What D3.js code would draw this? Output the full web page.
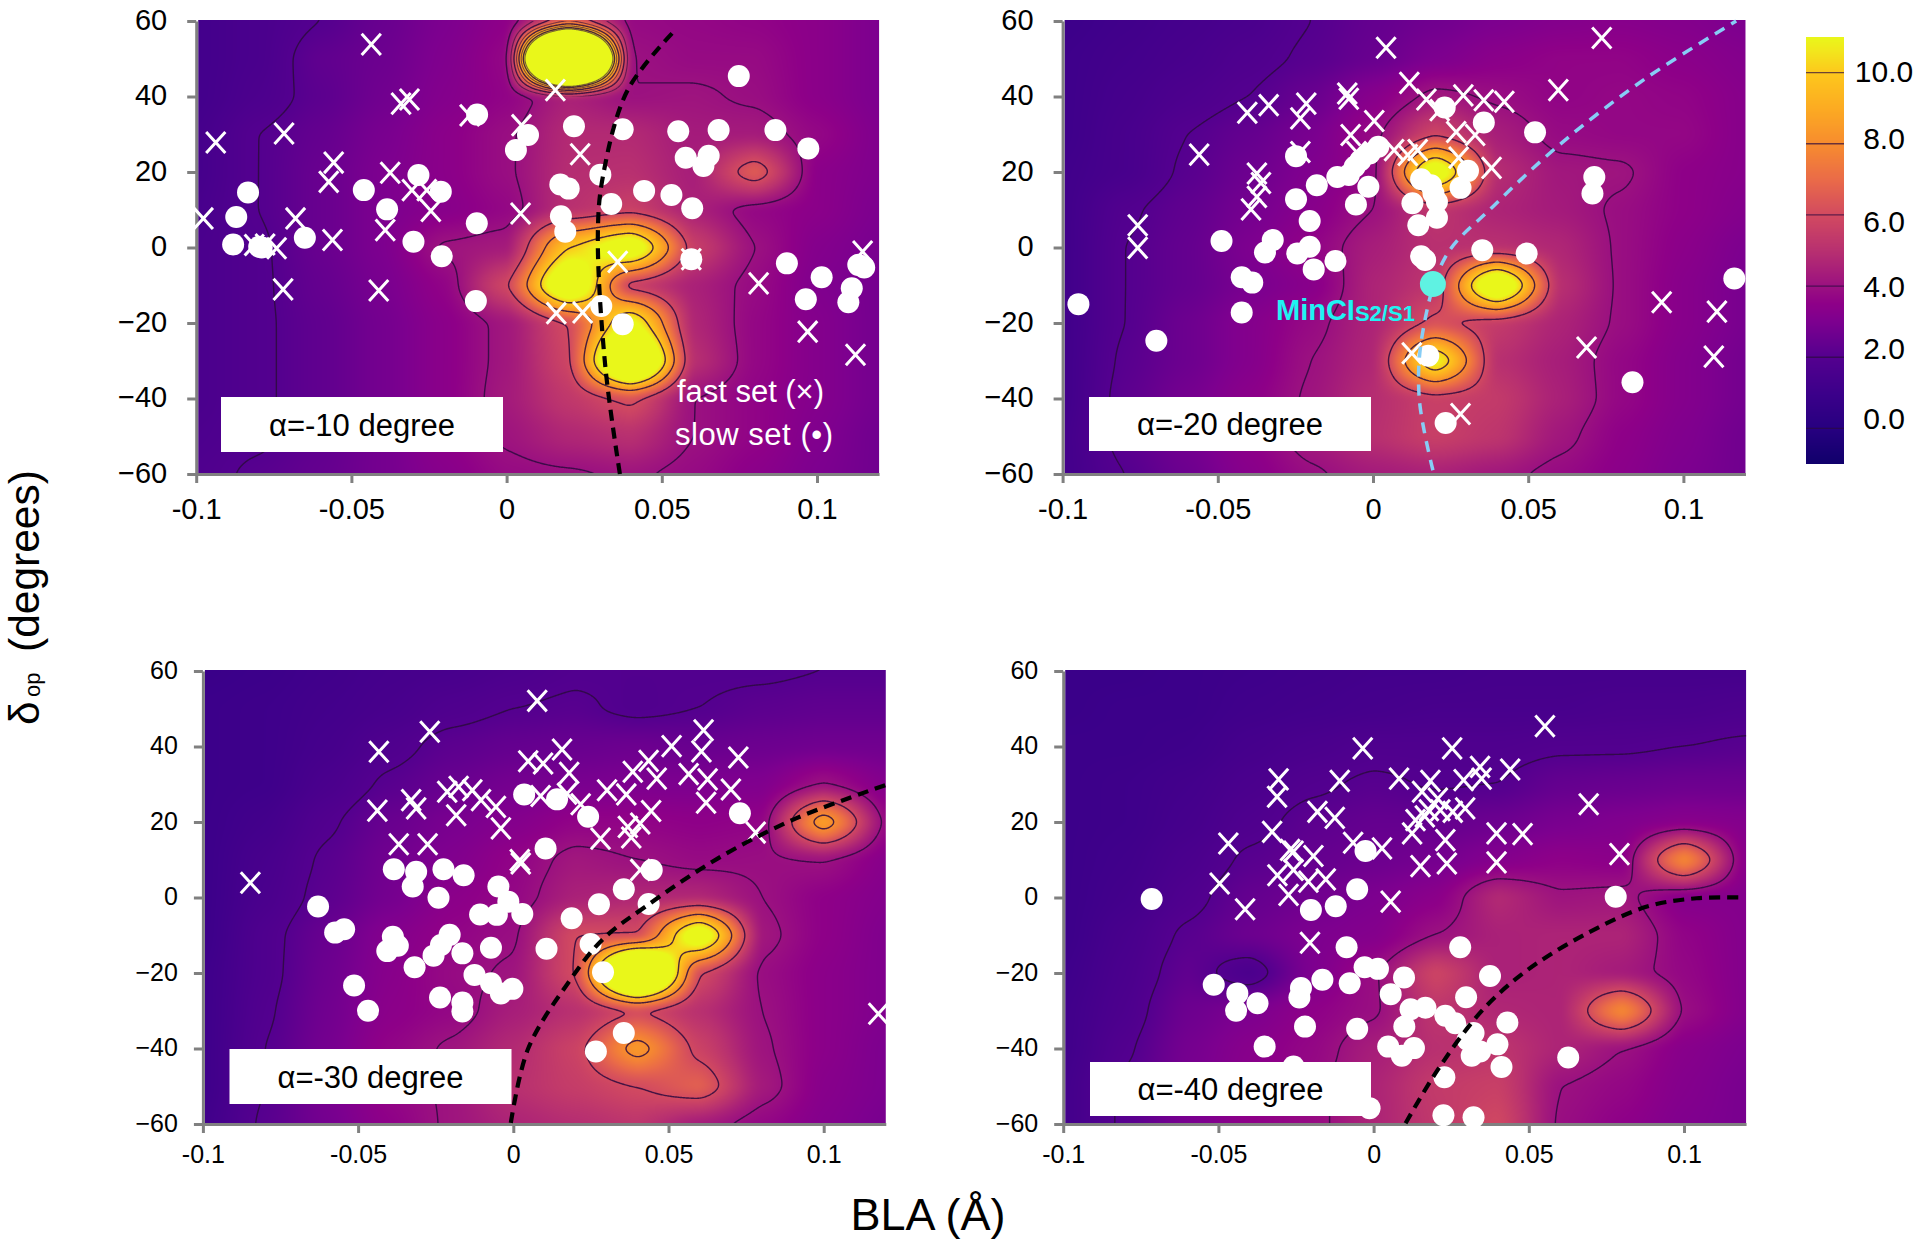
<!DOCTYPE html>
<html><head><meta charset="utf-8">
<script src="https://cdn.jsdelivr.net/npm/d3@7/dist/d3.min.js"></script>
<style>html,body{margin:0;padding:0;background:#fff}svg{display:block}text{font-family:"Liberation Sans",Arial,sans-serif}</style>
</head><body><svg id="chart" width="1920" height="1247"></svg>
<script>
// ---- grid axes of the energy maps
const gridBLA=[-0.1,-0.08,-0.06,-0.04,-0.02,0,0.02,0.04,0.06,0.08,0.1,0.12];
const gridDelta=[60,50,40,30,20,10,0,-10,-20,-30,-40,-50,-60];
// ---- energy grids (rows follow gridDelta, columns gridBLA)
const heat10=[
[1.3,1.6,2.0,2.5,3.0,3.5,6.5,3.8,3.7,3.6,3.4,3.0],
[1.3,1.6,2.3,2.6,3.1,3.7,33,4.0,3.8,3.8,3.4,3.0],
[1.3,1.7,2.2,2.7,3.2,3.6,4.5,4.0,4.1,3.9,3.4,3.0],
[1.4,2.0,2.4,2.9,3.4,3.9,4.8,4.8,4.3,4.3,3.7,3.1],
[1.4,2.0,2.5,3.0,3.4,3.9,4.9,5.0,4.4,6.6,3.4,3.1],
[1.5,2.0,2.5,3.0,3.3,3.7,5.0,5.6,4.5,3.7,3.4,3.0],
[1.6,1.9,2.5,3.0,4.1,4.3,10,12.5,5.6,4.0,3.2,2.9],
[1.6,1.9,2.4,2.9,3.6,5.9,13.5,5.5,4.5,3.8,3.1,2.8],
[1.6,1.9,2.3,2.8,3.4,4.2,6.0,11.5,4.7,3.7,3.2,2.8],
[1.6,1.9,2.3,2.8,3.4,4.2,5.8,17,5.0,3.7,3.2,2.8],
[1.6,1.9,2.3,2.8,3.4,4.3,5.3,6.2,4.0,3.6,3.2,2.8],
[1.7,1.9,2.3,2.8,3.5,4.1,4.7,5.0,4.0,3.6,3.1,2.7],
[1.8,2.1,2.4,2.8,3.3,3.8,3.9,4.1,3.8,3.4,3.0,2.7]];
const heat20=[
[1.0,1.2,1.4,1.6,2.0,2.4,2.7,3.0,3.2,3.3,3.2,3.0],
[1.1,1.3,1.5,1.8,2.1,2.5,3.0,3.4,3.6,3.6,3.4,3.2],
[1.1,1.4,1.7,2.0,2.5,3.3,4.2,3.9,3.6,3.7,3.6,3.3],
[1.1,1.5,2.0,2.4,2.9,3.8,5.8,4.4,3.8,3.7,3.7,3.3],
[1.2,1.5,2.1,2.6,3.1,3.7,12.5,4.9,4.2,4.1,3.5,3.3],
[1.2,1.9,2.3,2.8,3.3,4.0,5.2,4.6,4.3,3.9,3.5,3.2],
[1.2,2.0,2.4,3.0,3.6,4.4,5.0,5.0,4.7,3.9,3.4,3.0],
[1.2,2.0,2.4,2.9,3.3,4.6,5.2,13.5,5.0,3.9,3.3,2.9],
[1.2,2.0,2.6,3.2,3.8,4.6,6.2,5.4,4.6,3.9,3.3,2.9],
[1.2,2.1,2.6,3.2,4.0,4.7,11.3,5.0,4.4,3.7,3.2,2.8],
[1.2,2.2,2.8,3.4,4.1,4.9,5.6,5.4,4.5,3.7,3.2,2.8],
[1.3,2.2,2.8,3.5,4.3,5.0,5.6,5.2,4.2,3.5,3.1,2.7],
[1.3,2.0,2.6,3.3,3.9,4.3,4.5,4.2,3.8,3.4,3.0,2.7]];
const heat30=[
[0.9,1.0,1.2,1.4,1.5,1.7,1.9,1.9,1.9,1.9,2.0,2.0],
[1.0,1.1,1.3,1.5,1.8,2.0,2.1,1.85,2.0,2.2,2.3,2.3],
[1.0,1.1,1.4,1.8,2.2,2.4,2.5,2.6,2.5,2.6,2.7,2.7],
[1.0,1.1,1.6,2.1,2.5,2.8,2.9,3.0,3.0,3.1,4.0,3.2],
[1.0,1.3,1.9,2.5,2.9,3.2,3.6,3.6,3.5,3.6,8.8,3.8],
[1.0,1.5,2.1,2.7,3.1,3.6,4.2,4.0,3.8,3.9,4.0,3.3],
[1.0,1.6,2.2,2.8,3.4,3.7,4.5,4.7,4.7,4.0,3.5,3.2],
[1.0,1.8,2.5,3.2,3.6,3.9,6.0,6.0,12.5,4.2,3.5,3.1],
[1.1,1.8,2.6,3.3,3.8,4.1,6.0,19,6.0,3.9,3.4,3.1],
[1.1,1.9,2.7,3.4,3.7,4.4,5.0,5.95,5.0,4.0,3.4,3.1],
[1.1,2.0,2.8,3.6,4.1,4.8,5.7,8.5,5.7,4.1,3.4,3.0],
[1.1,2.0,2.9,3.7,4.1,5.0,5.5,6.0,6.7,4.3,3.3,3.0],
[1.2,2.1,2.8,3.5,4.1,4.6,4.9,5.2,4.3,3.7,3.2,2.9]];
const heat40=[
[0.9,0.9,1.0,1.1,1.2,1.3,1.3,1.4,1.4,1.4,1.4,1.4],
[0.9,1.0,1.0,1.2,1.3,1.4,1.5,1.5,1.5,1.6,1.6,1.7],
[1.0,1.0,1.1,1.4,1.6,1.8,1.8,1.8,1.9,1.9,2.0,2.1],
[1.0,1.1,1.3,1.6,1.9,2.1,1.95,2.0,2.4,2.5,2.6,2.6],
[1.0,1.1,1.4,1.8,2.2,2.4,2.4,2.6,2.9,3.1,3.3,3.2],
[1.0,1.2,1.6,2.1,2.4,2.6,2.8,3.2,3.5,3.4,8.0,3.3],
[1.0,1.3,1.8,2.4,2.7,3.0,3.4,4.8,4.1,4.2,3.2,3.2],
[1.0,1.5,2.1,2.6,3.0,3.2,4.0,4.5,4.6,4.6,3.6,3.2],
[1.1,1.6,2.3,1.6,3.0,3.9,5.8,4.5,4.6,4.3,3.7,3.2],
[1.2,1.7,2.6,3.0,3.5,3.9,5.2,4.7,4.6,8.0,3.9,3.2],
[1.2,1.9,2.8,3.3,3.7,4.4,5.0,5.2,4.6,4.0,3.3,3.0],
[1.3,2.1,2.9,3.4,3.8,4.6,5.4,5.6,4.0,3.7,3.2,2.9],
[1.3,2.1,2.9,3.5,3.8,4.6,5.3,5.9,3.9,3.5,3.1,2.9]];
// ---- fast set (crosses) [BLA, delta]
const fast10=[[-.0436,53.8],[-.034,38.1],[-.0313,39.2],[-.0937,27.8],[-.0717,30.2],[-.0119,35],[.0048,32.4],[.0157,41.7],[.0237,24.7],[-.0557,22.5],[-.0573,17.4],[-.0375,19.8],[-.0305,15.2],[-.0257,15.2],[-.0244,9.7],[-.0977,7.7],[-.068,7.7],[-.0391,4.6],[-.0561,2],[-.0813,.65],[-.0778,.8],[-.0741,-.2],[.0045,9],[-.072,-11.1],[-.0412,-11.4],[.0358,-3.8],[.0595,-3.1],[.0812,-9.5],[.1147,-1.1],[.016,-17.4],[.0245,-17.2],[.097,-22.3],[.1124,-28.4]];
const fast20=[[.0737,55.5],[.0042,52.9],[.0117,43.6],[.0597,41.7],[-.0083,40.8],[-.0078,39.4],[-.0215,38.1],[-.0336,37.7],[-.0405,35.7],[-.0234,34.2],[.0004,33.5],[-.0072,29.8],[.0172,39.2],[.0215,36.4],[.0291,40.3],[.0357,39],[.0423,38.6],[.0268,30.6],[.0329,29.8],[.0276,23.8],[.0382,21.1],[-.056,24.6],[-.0234,25.3],[-.0053,25.3],[.0068,25.8],[.0112,24.5],[.0144,25.8],[-.0374,19.6],[-.0361,17.1],[-.0374,13.4],[-.0393,10.1],[-.0758,5.9],[-.0758,-.1],[.0125,-28],[.0282,-44.1],[.0688,-26.5],[.093,-14.5],[.1108,-17],[.1098,-28.9]];
const fast30=[[.0077,52.1],[-.0269,43.9],[-.0433,38.6],[.0613,44.3],[.0606,38.7],[.051,40.1],[.0157,39.2],[.0048,36.1],[.0096,35.5],[.018,33],[.0436,36.2],[.0385,33.3],[.0462,31.5],[.0565,32.7],[.0626,31.3],[.0725,37.1],[.0701,28.6],[.0621,25.1],[.0302,28.4],[.0364,27.3],[.0088,26.9],[.0173,27.5],[.0217,24.7],[-.0213,28],[-.0176,29.3],[-.0132,28.4],[-.0104,25.8],[-.0329,25.8],[-.0313,23.6],[-.0438,23],[-.0056,24],[-.0184,21.8],[-.004,18.3],[-.0369,14.1],[-.0276,14.1],[.0281,15.6],[.038,15.9],[.0369,18.7],[.0409,19.6],[.0444,22.9],[.0781,17.2],[.0024,9],[.0021,9.9],[.0409,7.3],[-.0847,3.9],[.1176,-30.8]];
const fast40=[[.0552,45.4],[-.0035,39.5],[.0253,39.5],[-.0306,31.3],[-.0311,26.7],[-.0109,30.9],[.0082,31.5],[.0183,30.9],[.0343,34.6],[.029,31.1],[.0348,31.5],[.044,33.9],[.0156,28],[.0207,26.2],[-.0181,22.7],[-.0125,21.1],[.0693,24.7],[.0215,23.1],[.0295,23.6],[.0255,22.7],[.0178,23.1],[.0135,20.5],[.0165,21.5],[.0124,17],[.0231,15.2],[-.0327,17.4],[-.0468,14.3],[.0396,17],[.048,16.8],[-.0066,14.5],[.0027,13],[-.0269,12.6],[-.0258,12.2],[-.0194,11],[.0151,8.3],[.0236,9],[.0396,9.3],[.0792,11.5],[-.0496,3.7],[-.031,5.9],[-.0258,7.3],[-.021,4.2],[-.0154,4.8],[-.0274,.7],[-.0414,-3.1],[.0055,-1.1],[-.0205,-12]];
// ---- slow set (discs) [BLA, delta]
const slow10=[[.0748,45.4],[-.0095,35.2],[.0069,29.8],[.003,25.8],[.0217,32.1],[.0374,31.3],[.0553,30.8],[.0683,31.1],[.0866,31.1],[.0972,26.2],[.0577,23.8],[.0651,24.3],[.0634,21.6],[.0302,19.3],[.0173,16.7],[.02,15.6],[.0443,15],[.0531,13.9],[.0337,11.5],[.0598,10.4],[-.0284,19.2],[-.0212,14.8],[-.046,15.2],[-.0385,10.1],[-.0833,14.6],[-.0871,8.1],[-.0881,.8],[-.0797,.2],[-.0789,0],[-.065,2.6],[-.03,1.5],[-.0096,6.4],[-.0209,-2.3],[.0175,8.3],[.0189,4.2],[.0595,-3.1],[-.0099,-14.2],[.0305,-15.5],[.0374,-20.3],[.0903,-4.2],[.1015,-7.9],[.0964,-13.7],[.1133,-4.6],[.1152,-5.3],[.1112,-10.8],[.1101,-14.5]];
const slow20=[[.0231,37.1],[.0357,33.1],[.0522,30.5],[.0017,26.7],[-.0011,24.9],[-.004,23.1],[-.0059,21.4],[-.0115,18.7],[-.0078,19.2],[-.0248,24.2],[-.0181,16.5],[-.0015,16.1],[-.0248,12.8],[-.0055,11.4],[.0155,18.1],[.0187,16.5],[.0306,20.3],[.0282,15.8],[.0127,11.7],[.0206,12.1],[.0195,14.3],[.0206,7.9],[.0146,5.9],[.0713,18.7],[.0707,14.3],[-.0204,7],[-.0488,1.7],[-.0323,2],[-.0348,-1.3],[-.0204,.2],[-.0244,-1.6],[-.0121,-3.6],[-.0191,-5.8],[.0155,-2.3],[.0168,-3.3],[.0352,-.7],[.0495,-1.6],[-.0423,-7.9],[-.0389,-9.3],[-.0423,-17.2],[-.0949,-15],[-.0698,-24.7],[.0178,-28.7],[.0836,-35.7],[.0234,-46.5],[.1164,-8.2]];
const slow30=[[.0035,27.3],[.0141,26],[.0241,21.4],[.073,22.3],[.0104,13],[-.0385,7.5],[-.0313,6.8],[-.0225,7.5],[-.016,5.9],[.0446,7.3],[-.0324,2.9],[-.0241,-.05],[-.0048,2.9],[.0356,2.2],[-.0629,-2.4],[-.0016,-1.1],[-.0107,-4.5],[-.0053,-4.6],[.0029,-4.4],[.0276,-1.8],[.0436,-1.7],[.0188,-5.5],[-.0545,-8.4],[-.0574,-9.3],[-.0388,-10.4],[-.0205,-9.9],[-.0233,-12.6],[-.0072,-13.3],[-.0372,-12.8],[-.0406,-14.2],[-.0257,-15.4],[-.0164,-14.8],[.0107,-13.6],[.0249,-12.3],[-.0318,-18.5],[.0289,-19.8],[-.0125,-20.5],[-.0072,-22.7],[-.0513,-23.3],[-.004,-25.4],[-.0003,-24.2],[-.0236,-26.5],[-.0164,-27.8],[-.0164,-30.2],[-.0468,-30],[.0356,-35.9],[.0266,-40.8]];
const slow40=[[-.0715,-.4],[-.0026,12.3],[-.0053,2.2],[-.0202,-3.3],[-.0122,-2.3],[.078,.2],[-.0087,-13.2],[.0279,-13.2],[.0375,-20.8],[-.0029,-18.5],[.0014,-18.9],[-.0165,-21.8],[.0098,-21.2],[-.0077,-22.7],[-.0515,-23.1],[-.0234,-24],[-.0439,-25.4],[-.0239,-26.5],[.0055,-25.6],[-.0374,-28],[.0298,-26.4],[-.0443,-30],[.0119,-29.6],[.0167,-29.2],[.0231,-31.3],[.0263,-33.3],[.0431,-33.1],[.0099,-34.2],[-.0221,-34.2],[-.0053,-34.8],[.0322,-35.9],[.0303,-37.7],[.0399,-38.9],[.0047,-39.5],[.013,-39.9],[-.0351,-39.5],[.0091,-41.9],[.0343,-40.8],[.0316,-41.9],[.0627,-42.4],[.0412,-44.9],[.0228,-47.6],[-.0258,-44.8],[-.0013,-55.8],[.0225,-57.7],[.0322,-58.2]];
// ---- dashed paths [BLA, delta]
const path10=[[.0365,-60],[.0318,-31.5],[.0294,3.7],[.031,18.7],[.039,41.7],[.0542,57.5]];
const path20=[[.0193,-59],[.0149,-40],[.0159,-23],[.0234,-2.4],[.0386,10.8],[.0612,28],[.0877,44.7],[.117,60]];
const path30=[[-.0008,-59.7],[.0048,-40],[.0176,-22.7],[.0289,-11],[.0433,-2],[.0658,10.3],[.0898,20.5],[.12,29.8]];
const path40=[[.0103,-59.8],[.0207,-45.6],[.0351,-29.8],[.0496,-19.2],[.0688,-9.5],[.0881,-2.4],[.1041,-.2],[.1185,0]];
const minCI=[[.0193,-9.7]];
// ---- axes text
const xTicks=[-0.1,-0.05,0,0.05,0.1];
const xTickLabels=["-0.1","-0.05","0","0.05","0.1"];
const yTicks=[60,40,20,0,-20,-40,-60];
const contourLevels=[2,4,6,8,10];
const barTicks=[10,8,6,4,2,0];
const barTickLabels=["10.0","8.0","6.0","4.0","2.0","0.0"];
const panelTitles=["α=-10 degree","α=-20 degree","α=-30 degree","α=-40 degree"];
// ---- colour ramp
const rampValues=[-1,0,1,2,3,3.5,4,5,6,7,8,9,10,10.6,11];
const rampColors=["#10006b","#270080","#3c008a","#54008f","#7d008f","#8e0088","#9b1180","#b83070","#d24a60","#ea6b48","#f78c2e","#fcab22","#fdc81c","#f2e61c","#e9f71a"];

const color=d3.scaleLinear().domain(rampValues).range(rampColors).clamp(true);
const svg=d3.select("#chart");
const defs=svg.append("defs");

const panels=[
 {heat:heat10,fast:fast10,slow:slow10,path:path10,dash:"#000",title:panelTitles[0],x0:506.6,top:21,bottom:474,font:29,lab:45,lx:-29,box:[221,397,282,55],extra:{levels:[5,7,9,10.8],area:[0,.04,40,60]}},
 {heat:heat20,fast:fast20,slow:slow20,path:path20,dash:"#87cdf5",title:panelTitles[1],x0:1373,top:21,bottom:474,font:29,lab:45,lx:-29,box:[1089,397,282,54]},
 {heat:heat30,fast:fast30,slow:slow30,path:path30,dash:"#000",title:panelTitles[2],x0:513.3,top:671,bottom:1124,font:25,lab:39,lx:-25,box:[229.5,1049,282,55]},
 {heat:heat40,fast:fast40,slow:slow40,path:path40,dash:"#000",title:panelTitles[3],x0:1373.6,top:671,bottom:1124,font:25,lab:39,lx:-25,box:[1090,1062,281,54]}
];
const pxPerUnit=3104;

function makeField(grid){
  const ci=d3.scaleLinear().domain(d3.extent(gridBLA)).range([0,gridBLA.length-1]).clamp(true);
  const ri=d3.scaleLinear().domain([gridDelta[0],gridDelta[gridDelta.length-1]]).range([0,gridDelta.length-1]).clamp(true);
  const s=t=>.5*t+.5*t*t*(3-2*t);
  return (x,y)=>{
    const a=ci(x),b=ri(y);
    const i=Math.min(Math.floor(a),gridBLA.length-2),j=Math.min(Math.floor(b),gridDelta.length-2);
    const u=s(a-i),v=s(b-j);
    return (grid[j][i]*(1-u)+grid[j][i+1]*u)*(1-v)+(grid[j+1][i]*(1-u)+grid[j+1][i+1]*u)*v;
  };
}

panels.forEach((p,k)=>{
  const x=d3.scaleLinear().domain([-0.1,0.12]).range([p.x0-0.1*pxPerUnit,p.x0+0.12*pxPerUnit]);
  const y=d3.scaleLinear().domain([60,-60]).range([p.top,p.bottom]);
  const g=svg.append("g");
  const L=x.range()[0],R=x.range()[1];
  const pad=3;
  const n=Math.ceil(R-L)+2*pad,m=Math.ceil(p.bottom-p.top)+2*pad;
  const f=makeField(p.heat);
  let vals=new Float64Array(n*m);
  for(let r=0;r<m;r++)for(let c=0;c<n;c++)vals[r*n+c]=f(x.invert(L-pad+c+.5),y.invert(p.top-pad+r+.5));
  if(d3.blur2){const o={data:vals,width:n,height:m};d3.blur2(o,3);}
  // raster
  const cv=document.createElement("canvas");cv.width=n;cv.height=m;
  const ctx=cv.getContext("2d"),img=ctx.createImageData(n,m);
  for(let i=0;i<n*m;i++){const col=d3.rgb(color(vals[i]));img.data[4*i]=col.r;img.data[4*i+1]=col.g;img.data[4*i+2]=col.b;img.data[4*i+3]=255;}
  ctx.putImageData(img,0,0);
  const clipId="clip"+k;
  defs.append("clipPath").attr("id",clipId).append("rect").attr("x",L+2).attr("y",p.top-1).attr("width",R-L-2).attr("height",p.bottom-p.top);
  const clipped=g.append("g").attr("clip-path",`url(#${clipId})`);
  clipped.append("image").attr("x",L-pad).attr("y",p.top-pad).attr("width",n).attr("height",m).attr("href",cv.toDataURL());
  // contours
  const geo=d3.geoPath();
  const cg=clipped.append("g").attr("transform",`translate(${L-pad},${p.top-pad})`).attr("fill","none").attr("stroke","#2c0a3e").attr("stroke-opacity",.85).attr("stroke-width",1.4);
  const contour=d3.contours().size([n,m]).smooth(true);
  contourLevels.forEach(l=>cg.append("path").attr("d",geo(contour.contour(vals,l))));
  if(p.extra){
    const [a,b,c,d]=p.extra.area;
    const id2="clipx"+k;
    defs.append("clipPath").attr("id",id2).append("rect").attr("x",x(a)).attr("y",y(d)).attr("width",x(b)-x(a)).attr("height",y(c)-y(d));
    const eg=clipped.append("g").attr("clip-path",`url(#${id2})`).append("g").attr("transform",`translate(${L-pad},${p.top-pad})`).attr("fill","none").attr("stroke","#2c0a3e").attr("stroke-opacity",.6).attr("stroke-width",1.1);
    p.extra.levels.forEach(l=>eg.append("path").attr("d",geo(contour.contour(vals,l))));
  }
  // axes
  const styleAxis=a=>{a.selectAll("path,line").attr("stroke","#808080").attr("stroke-width",3);a.selectAll("text").attr("fill","#000").attr("font-size",p.font);};
  const ax=g.append("g").attr("transform",`translate(0,${p.bottom})`).call(d3.axisBottom(x).tickValues(xTicks).tickFormat((d,i)=>xTickLabels[i]).tickSize(9).tickSizeOuter(0));
  styleAxis(ax);ax.selectAll("text").attr("y",p.lab).attr("dy",0);
  const ay=g.append("g").attr("transform",`translate(${L},0)`).call(d3.axisLeft(y).tickValues(yTicks).tickFormat(d3.format("d")).tickSize(9).tickSizeOuter(0));
  styleAxis(ay);ay.selectAll("text").attr("x",p.lx).attr("dy",".28em");
  // marks
  const h=9.6;
  g.append("g").selectAll("path").data(p.fast).join("path")
    .attr("d",d=>`M${x(d[0])-h},${y(d[1])-h*1.1}L${x(d[0])+h},${y(d[1])+h*1.1}M${x(d[0])+h},${y(d[1])-h*1.1}L${x(d[0])-h},${y(d[1])+h*1.1}`)
    .attr("stroke","#fff").attr("stroke-width",3).attr("fill","none");
  g.append("g").selectAll("circle").data(p.slow).join("circle").attr("cx",d=>x(d[0])).attr("cy",d=>y(d[1])).attr("r",11).attr("fill","#fff");
  g.append("path").attr("d",d3.line().x(d=>x(d[0])).y(d=>y(d[1])).curve(d3.curveCatmullRom)(p.path))
    .attr("fill","none").attr("stroke",p.dash).attr("stroke-width",k==1?3.5:4.2).attr("stroke-dasharray",k==1?"11,8":"11,7");
  if(k==1){
    g.selectAll(".mci").data(minCI).join("circle").attr("cx",d=>x(d[0])).attr("cy",d=>y(d[1])).attr("r",13).attr("fill","#5ff2e2");
    const t=g.append("text").attr("x",1276).attr("y",320).attr("fill","#1ff3f3").attr("font-weight","bold").attr("font-size",29);
    t.append("tspan").text("MinCI");
    t.append("tspan").attr("font-size",22).attr("dy",1).text("S2/S1");
  }
  // title box
  g.append("rect").attr("x",p.box[0]).attr("y",p.box[1]).attr("width",p.box[2]).attr("height",p.box[3]).attr("fill","#fff");
  g.append("text").attr("x",p.box[0]+p.box[2]/2).attr("y",p.box[1]+p.box[3]/2+11).attr("text-anchor","middle").attr("font-size",31).attr("fill","#000").text(p.title);
});

// legend notes in the first panel
svg.append("text").attr("x",677).attr("y",402).attr("fill","#fff").attr("font-size",31).attr("textLength",147).text("fast set (×)");
svg.append("text").attr("x",675).attr("y",445).attr("fill","#fff").attr("font-size",31).attr("textLength",158).text("slow set (•)");

// colour bar
const barY=d3.scaleLinear().domain([-1,11]).range([464,37]);
const bar=svg.append("g");
bar.selectAll("rect").data(d3.range(37,464)).join("rect").attr("x",1806).attr("y",d=>d).attr("width",38).attr("height",1.2).attr("fill",d=>color(barY.invert(d+.5))).attr("shape-rendering","crispEdges");
bar.selectAll("line").data(barTicks).join("line").attr("x1",1806).attr("x2",1844).attr("y1",d=>barY(d)).attr("y2",d=>barY(d)).attr("stroke","#2c0a3e").attr("stroke-opacity",.7).attr("stroke-width",1.3);
const barLabelNudge=[-1,-5,7,1,-8,-9];
bar.selectAll("text").data(barTicks).join("text").attr("x",1884).attr("y",(d,i)=>barY(d)+barLabelNudge[i]+10).attr("text-anchor","middle").attr("font-size",30).text((d,i)=>barTickLabels[i]);

// axis titles
svg.append("text").attr("x",928).attr("y",1230).attr("text-anchor","middle").attr("font-size",45).text("BLA (Å)");
const yt=svg.append("text").attr("transform","translate(39,0) rotate(-90)").attr("font-size",42.5);
yt.append("tspan").attr("x",-725).text("δ");
yt.append("tspan").attr("x",-697).attr("font-size",22).attr("dy",1).text("op ");
yt.append("tspan").attr("x",-652).attr("dy",-1).text("(degrees)");
</script></body></html>
